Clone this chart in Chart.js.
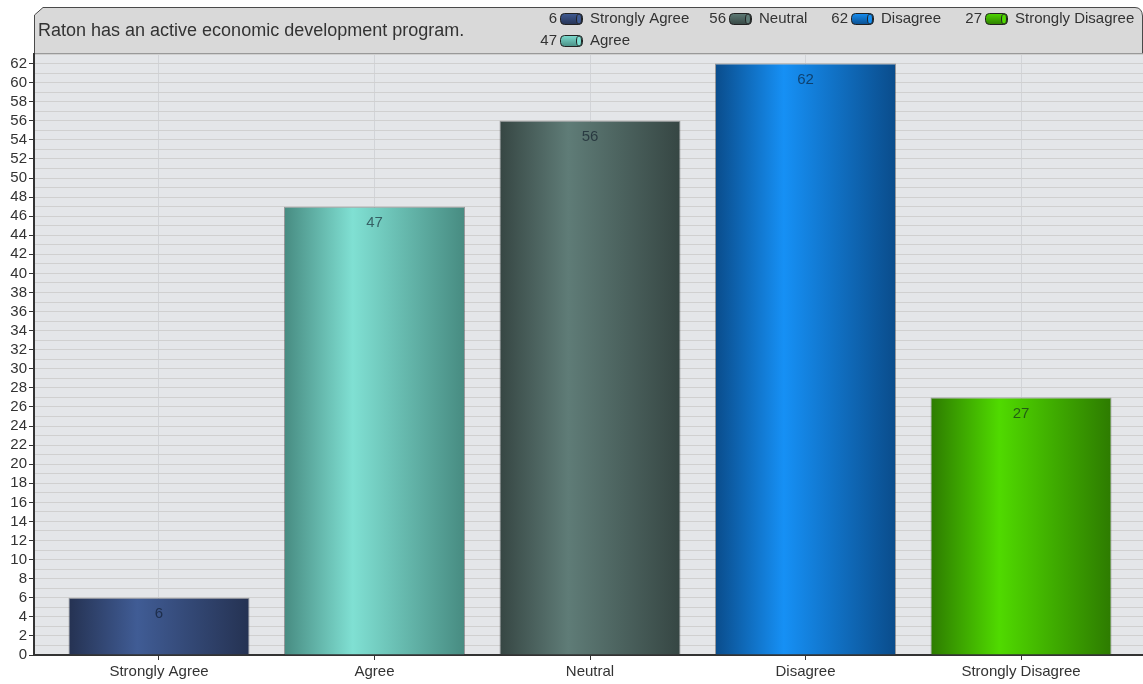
<!DOCTYPE html>
<html>
<head>
<meta charset="utf-8">
<script src="https://cdn.jsdelivr.net/npm/chart.js@4.4.1/dist/chart.umd.min.js"></script>
<style>
  html, body { margin: 0; padding: 0; background: #fff; }
  #wrap { width: 1143px; height: 684px; }
</style>
</head>
<body>
<div id="wrap"><canvas id="chart-space" width="1143" height="684"></canvas></div>
<script>
const chartTitle = 'Raton has an active economic development program.';
const categories = ['Strongly Agree', 'Agree', 'Neutral', 'Disagree', 'Strongly Disagree'];
const counts = [6, 47, 56, 62, 27];
// edge colour, highlight colour for each bar
const edgeColors = ['#253252', '#478b81', '#364643', '#0a4c8b', '#2d7b00'];
const lightColors = ['#405c95', '#80e0d3', '#5f7c77', '#1690f5', '#50da00'];
// legend goes column by column, two rows
const legendOrder = [0, 1, 2, 3, 4];

const FONT = '"Liberation Sans", Arial, sans-serif';

function barGradient(ctx, left, right, i) {
  const g = ctx.createLinearGradient(left, 0, right, 0);
  g.addColorStop(0, edgeColors[i]);
  g.addColorStop(0.38, lightColors[i]);
  g.addColorStop(1, edgeColors[i]);
  return g;
}

const backdrop = {
  id: 'backdrop',
  beforeDraw(chart) {
    const { ctx, chartArea: a } = chart;
    ctx.save();
    ctx.fillStyle = '#e4e6e9';
    ctx.fillRect(a.left, a.top, a.right - a.left, a.bottom - a.top);
    // header box
    ctx.beginPath();
    ctx.moveTo(a.left + 0.5, a.top);
    ctx.lineTo(a.left + 0.5, 15);
    ctx.lineTo(a.left + 9, 7.5);
    ctx.lineTo(a.right - 8, 7.5);
    ctx.quadraticCurveTo(a.right - 1, 7.5, a.right - 0.5, 16);
    ctx.lineTo(a.right - 0.5, a.top);
    ctx.closePath();
    ctx.fillStyle = '#d9d9d9';
    ctx.fill();
    ctx.strokeStyle = '#4a4a4a';
    ctx.lineWidth = 1;
    ctx.stroke();
    ctx.beginPath();
    ctx.moveTo(a.left, a.top - 0.5);
    ctx.lineTo(a.right, a.top - 0.5);
    ctx.strokeStyle = '#999';
    ctx.stroke();

    ctx.fillStyle = '#333';
    ctx.font = '18px ' + FONT;
    ctx.textBaseline = 'middle';
    ctx.textAlign = 'left';
    ctx.fillText(chartTitle, 38, 31);

    // legend
    const colX = [560, 729, 851, 985];
    const rowY = [19, 41];
    ctx.font = '15px ' + FONT;
    legendOrder.forEach((idx, n) => {
      const col = n < 2 ? 0 : n - 1;
      const row = n === 1 ? 1 : 0;
      const sx = colX[col], sy = rowY[row];
      ctx.fillStyle = '#333';
      ctx.textAlign = 'right';
      ctx.fillText(String(counts[idx]), sx - 3, sy);
      ctx.beginPath();
      ctx.roundRect(sx + 0.5, sy - 5.5, 22, 11, 4);
      const g = ctx.createLinearGradient(0, sy - 6, 0, sy + 6);
      g.addColorStop(0, lightColors[idx]);
      g.addColorStop(1, edgeColors[idx]);
      ctx.fillStyle = g;
      ctx.fill();
      ctx.strokeStyle = '#222';
      ctx.stroke();
      ctx.beginPath();
      ctx.ellipse(sx + 19, sy, 2.5, 5, 0, 0, Math.PI * 2);
      ctx.fillStyle = lightColors[idx];
      ctx.fill();
      ctx.stroke();
      ctx.fillStyle = '#333';
      ctx.textAlign = 'left';
      ctx.fillText(categories[idx], sx + 30, sy);
    });
    ctx.restore();
  }
};

const valueLabels = {
  id: 'valueLabels',
  afterDatasetsDraw(chart) {
    const { ctx } = chart;
    const meta = chart.getDatasetMeta(0);
    ctx.save();
    ctx.font = '15px ' + FONT;
    ctx.textAlign = 'center';
    ctx.textBaseline = 'middle';
    ctx.fillStyle = 'rgba(10,20,35,0.6)';
    meta.data.forEach((bar, i) => {
      ctx.fillText(String(counts[i]), bar.x, bar.y + 16);
    });
    ctx.restore();
  }
};

new Chart(document.getElementById('chart-space'), {
  type: 'bar',
  data: {
    datasets: [{
      data: counts.map((v, i) => ({ x: i, y: v })),
      backgroundColor(c) {
        const xs = c.chart.scales.x;
        if (!xs || !c.chart.chartArea) return edgeColors[c.dataIndex];
        const l = xs.getPixelForValue(c.dataIndex - 0.42);
        const r = xs.getPixelForValue(c.dataIndex + 0.42);
        return barGradient(c.chart.ctx, l, r, c.dataIndex);
      },
      borderColor: 'rgba(60,60,60,0.45)',
      borderWidth: 1,
      barPercentage: 0.84,
      categoryPercentage: 1
    }]
  },
  options: {
    responsive: false,
    animation: false,
    layout: { padding: { top: 54, right: 0, left: 0, bottom: 0 } },
    plugins: { legend: { display: false }, tooltip: { enabled: false } },
    scales: {
      x: {
        type: 'linear',
        offset: false,
        min: -0.58,
        max: 4.566,
        afterBuildTicks(scale) { scale.ticks = categories.map((c, i) => ({ value: i })); },
        afterFit(scale) { scale.height = 29; },
        ticks: {
          callback: v => categories[v],
          color: '#333',
          font: { family: FONT, size: 15 },
          padding: 3,
          maxRotation: 0,
          autoSkip: false
        },
        grid: { offset: false, color: '#d2d4d8', tickColor: '#333', tickLength: 5, lineWidth: 1 },
        border: { color: '#333', width: 2 }
      },
      y: {
        min: 0,
        max: 63,
        afterBuildTicks(scale) {
          const t = [];
          for (let v = 0; v <= 63; v++) t.push({ value: v });
          scale.ticks = t;
        },
        afterFit(scale) { scale.width = 34; },
        ticks: {
          callback: v => (v % 2 === 0 ? String(v) : ''),
          color: '#333',
          font: { family: FONT, size: 15 },
          padding: 2,
          autoSkip: false
        },
        grid: {
          color: '#d0d0d0',
          tickColor: c => (c.tick && c.tick.value % 2 === 0 ? '#333' : 'rgba(0,0,0,0)'),
          tickLength: 5
        },
        border: { color: '#333', width: 2 }
      }
    }
  },
  plugins: [backdrop, valueLabels]
});
</script>
</body>
</html>
